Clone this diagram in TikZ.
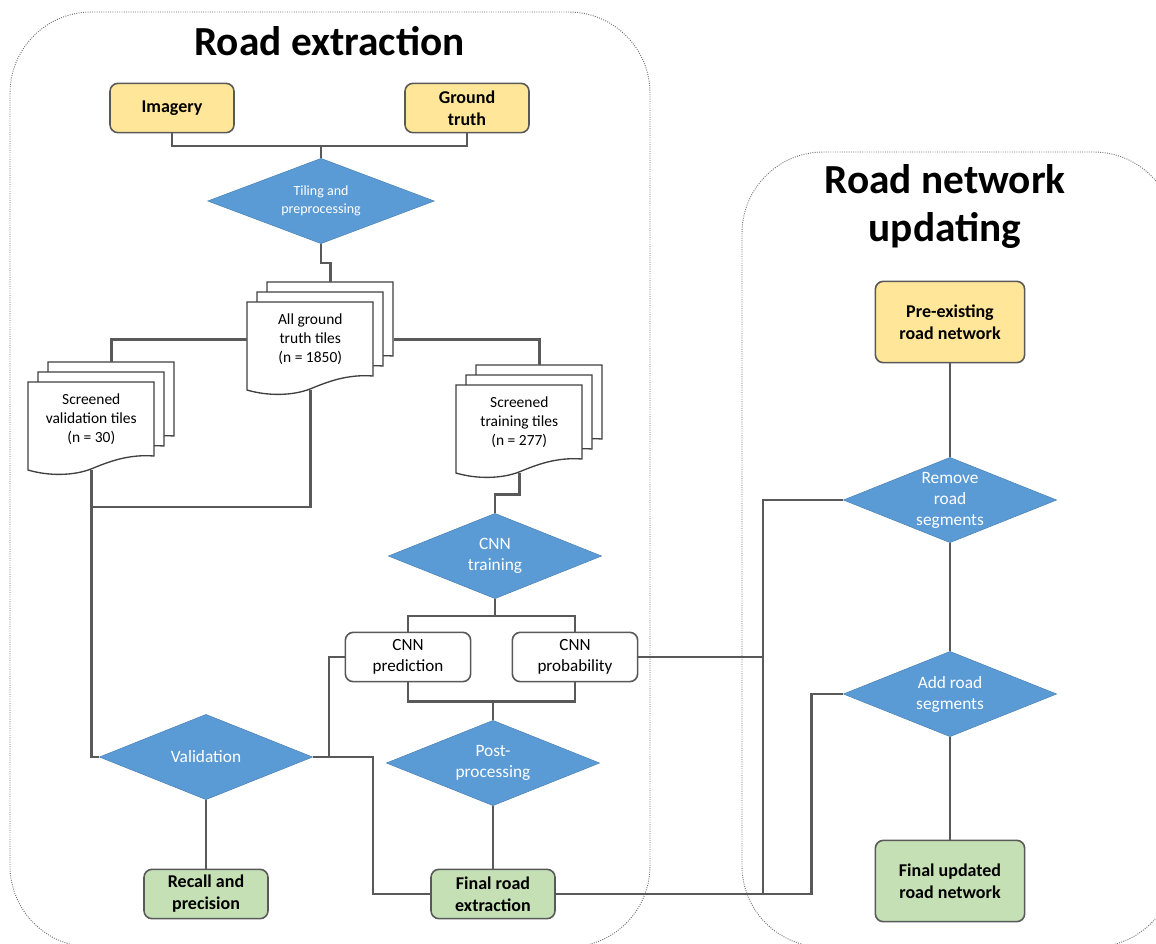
\documentclass[tikz,border=0pt]{standalone}
\usepackage{fontspec}
\setmainfont{Carlito}
\usetikzlibrary{shapes.geometric,positioning}

\definecolor{linegray}{HTML}{595959}
\definecolor{pageedge}{HTML}{404040}
\definecolor{framegray}{HTML}{6F6F6F}
\definecolor{boxyellow}{HTML}{FFE699}
\definecolor{boxgreen}{HTML}{C5E0B4}
\definecolor{diamondblue}{HTML}{5B9BD5}

\newcommand{\tilestack}[2]{%
  \foreach \d in {20,10,0}{%
    \begin{scope}[shift={(#1+\d,#2-\d)}]
      \draw[page] (0,0) -- (126,0) -- (126,74) .. controls (100,72) and (80,80) .. (63,87) .. controls (45,94) and (20,94) .. (0,88) -- cycle;
    \end{scope}
  }}

\begin{document}
\begin{tikzpicture}[x=0.75pt,y=-0.75pt,
    box/.style={draw=linegray,line width=1.2pt,rounded corners=6pt,minimum width=93pt,minimum height=37pt,align=center,inner sep=2pt},
    inbox/.style={box,fill=boxyellow,font=\fontsize{13.5}{16.5}\selectfont\bfseries},
    outbox/.style={box,fill=boxgreen,font=\fontsize{13.5}{16.5}\selectfont\bfseries},
    cnnbox/.style={box,fill=white,minimum width=94pt,font=\fontsize{12.8}{15.8}\selectfont},
    decision/.style={diamond,shape aspect=2.5,fill=diamondblue,draw=diamondblue!85!black,line width=0.4pt,minimum width=160pt,minimum height=64pt,inner sep=-6pt,align=center,text=white,font=\fontsize{13}{15.8}\selectfont},
    page/.style={draw=pageedge,fill=white,line width=1pt},
    doctext/.style={anchor=north west,minimum width=94.5pt,minimum height=55.5pt,inner sep=0pt,align=center,font=\fontsize{11.6}{14.3}\selectfont},
    link/.style={draw=linegray,line width=2pt},
    frame/.style={draw=framegray,densely dotted,line width=0.7pt,rounded corners=61pt},
    title/.style={font=\fontsize{31}{36}\selectfont\bfseries}
  ]
  \clip (0,0) rectangle (1156,943);
  \draw[frame] (10,12) rectangle (650,947);
  \draw[frame] (742,152) rectangle (1175,947);
  \node[title,anchor=base] (extraction) at (329.5,55) {Road extraction};
  \node[title,align=center] (updating) at (945,206) {Road network\\updating};

  \node[inbox] (imagery) at (172,108) {Imagery};
  \node[inbox] (gtruth) at (467,108) {Ground\\truth};
  \node[decision,minimum width=170pt,font=\fontsize{10.5}{13}\selectfont] (tiling) at (321,201) {Tiling and\\preprocessing};

  \tilestack{247}{302}
  \node[doctext] (alltiles) at (247,302) {All ground\\truth tiles\\(n = 1850)};
  \tilestack{28}{382}
  \node[doctext] (valtiles) at (28,382) {Screened\\validation tiles\\(n = 30)};
  \tilestack{456}{385}
  \node[doctext] (traintiles) at (456,385) {Screened\\training tiles\\(n = 277)};

  \node[decision] (cnntrain) at (495,556) {CNN\\training};
  \node[cnnbox] (pred) at (408,657) {CNN\\prediction};
  \node[cnnbox] (prob) at (575,657) {CNN\\probability};
  \node[decision] (post) at (493,763) {Post-\\processing};
  \node[decision] (valid) at (206,757) {Validation};
  \node[outbox] (recall) at (206,894) {Recall and\\precision};
  \node[outbox] (final) at (493,894) {Final road\\extraction};

  \node[inbox,minimum width=112pt,minimum height=61pt] (pre) at (950,322) {Pre-existing\\road network};
  \node[decision] (remove) at (950,500) {Remove\\road\\segments};
  \node[decision] (add) at (950,694) {Add road\\segments};
  \node[outbox,minimum width=112pt,minimum height=61pt] (updated) at (950,881) {Final updated\\road network};

  \coordinate (topjoin) at (321,146);
  \coordinate (valjoin) at (91,507);
  \coordinate (predjoin) at (329,757);
  \coordinate (updjoin) at (763,894);

  \draw[link] (imagery.south) |- (topjoin) -| (gtruth.south);
  \draw[link] (topjoin) -- (tiling.north);
  \draw[link] (tiling.south) -- ++(0,19) -| ([shift={(20,-20)}]alltiles.north);
  \draw[link] (alltiles.west) -| ([shift={(20,-20)}]valtiles.north);
  \draw[link] ([shift={(20,0)}]alltiles.east) -| ([shift={(20,-20)}]traintiles.north);
  \draw[link] ([shift={(0,13)}]alltiles.south) |- (valjoin);
  \draw[link] ([shift={(0,13)}]valtiles.south) |- (valid.west);
  \draw[link] ([shift={(0,13)}]traintiles.south) -- ++(0,22) -| (cnntrain.north);
  \draw[link] (cnntrain.south) -- ++(0,17) coordinate (cnnjoin) -| (pred.north);
  \draw[link] (cnnjoin) -| (prob.north);
  \draw[link] (pred.south) -- ++(0,19) -| (prob.south);
  \draw[link] (post.north) -- ++(0,-20);
  \draw[link] (valid.south) -- (recall.north);
  \draw[link] (valid.east) -- ++(60,0) |- (final.west);
  \draw[link] (pred.west) -| (predjoin);
  \draw[link] (post.south) -- (final.north);
  \draw[link] (final.east) -- ++(256,0) |- (add.west);
  \draw[link] (remove.west) -| (updjoin);
  \draw[link] (prob.east) -- (prob.east -| updjoin);
  \draw[link] (pre.south) -- (remove.north);
  \draw[link] (remove.south) -- (add.north);
  \draw[link] (add.south) -- (updated.north);
\end{tikzpicture}
\end{document}
